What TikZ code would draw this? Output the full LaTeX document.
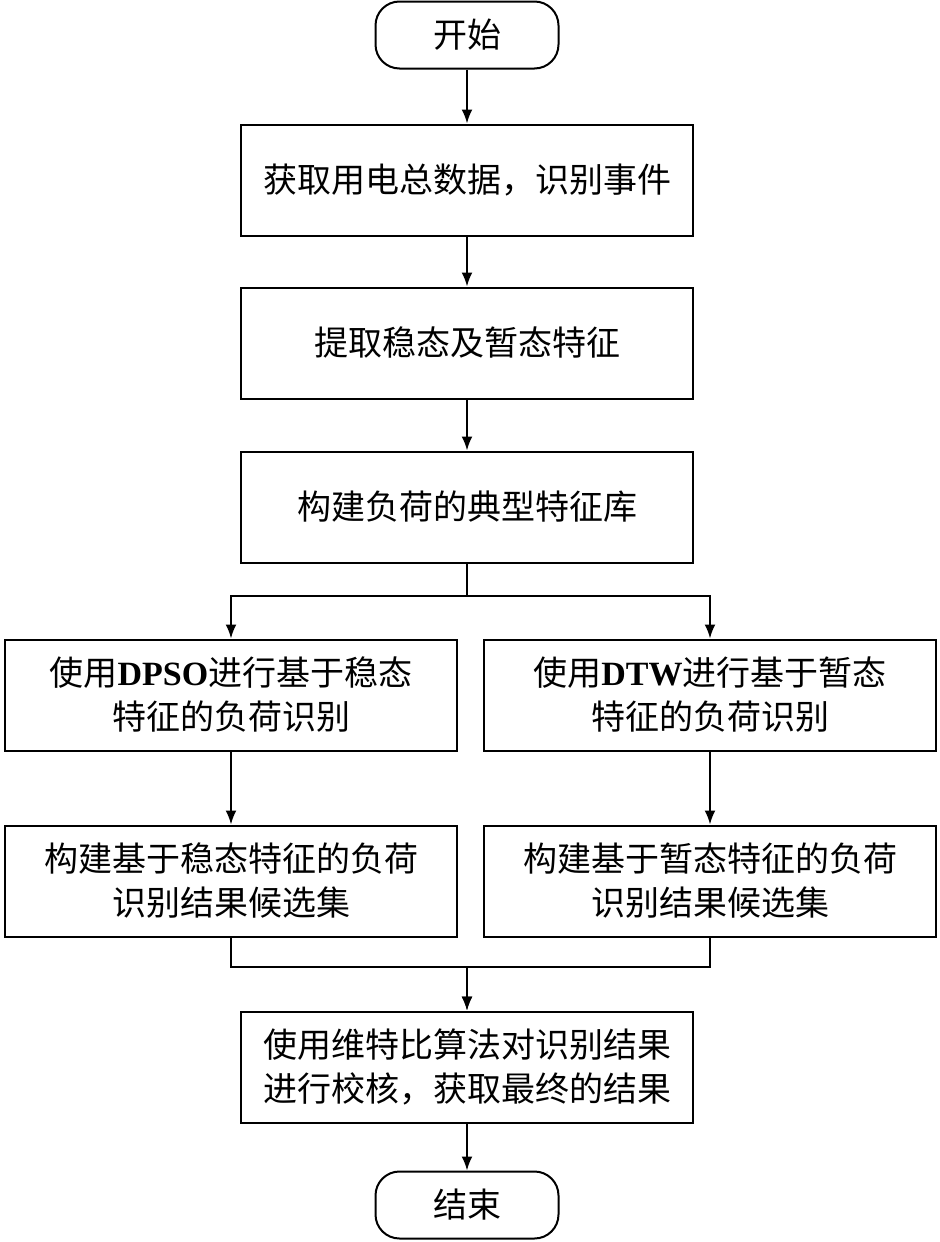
\documentclass[tikz,border=0pt]{standalone}
\usepackage{fontspec}
\newfontfamily\cjk{Noto Sans CJK SC}
\newfontfamily\latin{Liberation Serif}
\usetikzlibrary{positioning,arrows.meta}

\begin{document}
\begin{tikzpicture}[
    x=1pt, y=1pt,
    terminal/.style={draw, line width=1pt, rounded corners=12pt, minimum width=91.5pt, minimum height=33.5pt,
        font=\cjk\fontsize{17}{22}\selectfont},
    process/.style={draw, line width=1pt, minimum width=226pt, minimum height=55.5pt, align=center,
        font=\cjk\fontsize{17}{22}\selectfont},
    arrow/.style={draw, -{Latex[length=7pt, width=5.5pt]}, line width=1pt}
]
    \useasboundingbox (0,0) rectangle (470,-621);

    % main column
    \node[terminal] (start) at (233.5,-17.5) {开始};
    \node[process, below=27pt of start] (events) {获取用电总数据，识别事件};
    \node[process, below=25pt of events] (extract) {提取稳态及暂态特征};
    \node[process, below=25.5pt of extract] (library) {构建负荷的典型特征库};

    % two branches
    \node[process, below=37.5pt of library, xshift=-118pt] (dpso)
        {使用{\latin\bfseries DPSO}进行基于稳态\\特征的负荷识别};
    \node[process, below=37.5pt of library, xshift=121.5pt] (dtw)
        {使用{\latin\bfseries DTW}进行基于暂态\\特征的负荷识别};
    \node[process, below=36.5pt of dpso] (candsteady) {构建基于稳态特征的负荷\\识别结果候选集};
    \node[process, below=36.5pt of dtw] (candtrans) {构建基于暂态特征的负荷\\识别结果候选集};

    \node[process, below=36.5pt of candsteady, xshift=118pt] (verify)
        {使用维特比算法对识别结果\\进行校核，获取最终的结果};
    \node[terminal, below=23.5pt of verify] (end) {结束};

    \draw[arrow] (start) -- (events);
    \draw[arrow] (events) -- (extract);
    \draw[arrow] (extract) -- (library);
    \draw[arrow] (library.south) -- ++(0,-16) -| (dpso.north);
    \draw[arrow] (library.south) -- ++(0,-16) -| (dtw.north);
    \draw[arrow] (dpso) -- (candsteady);
    \draw[arrow] (dtw) -- (candtrans);
    \draw[arrow] (candsteady.south) -- ++(0,-14.5) -| (verify.north);
    \draw[arrow] (candtrans.south) -- ++(0,-14.5) -| (verify.north);
    \draw[arrow] (verify) -- (end);
\end{tikzpicture}
\end{document}
